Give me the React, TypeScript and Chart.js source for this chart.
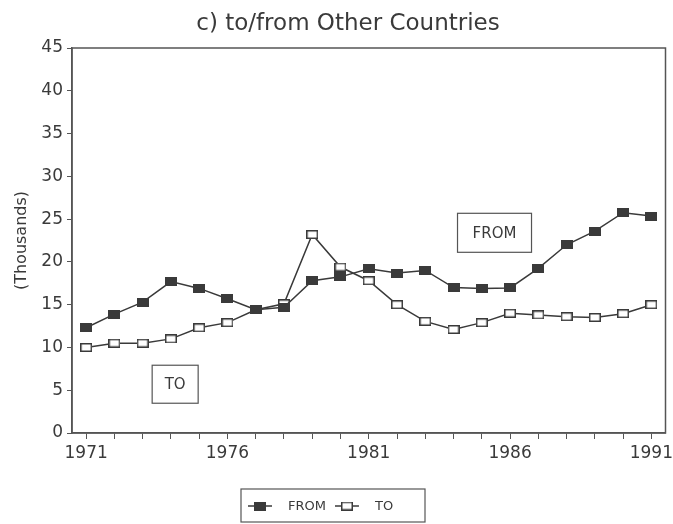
import { useEffect, useRef } from "react";
import { Chart, registerables } from "chart.js";

Chart.register(...registerables);

const years = [
  "1971", "1972", "1973", "1974", "1975", "1976", "1977", "1978", "1979", "1980",
  "1981", "1982", "1983", "1984", "1985", "1986", "1987", "1988", "1989", "1990", "1991",
];
const fromValues = [
  12.3, 13.9, 15.3, 17.7, 16.9, 15.7, 14.4, 14.7, 17.8, 18.25,
  19.2, 18.7, 19.0, 17.0, 16.9, 16.95, 19.25, 22.0, 23.6, 25.75, 25.35,
];
const toValues = [
  10.0, 10.5, 10.5, 11.0, 12.3, 12.9, 14.4, 15.1, 23.2, 19.4,
  17.8, 15.0, 13.05, 12.1, 12.9, 14.0, 13.8, 13.6, 13.5, 13.95, 15.0,
];
const labeledYears = ["1971", "1976", "1981", "1986", "1991"];
const seriesNames = ["FROM", "TO"];
const titleText = "c) to/from Other Countries";
const yAxisTitle = "(Thousands)";
// annotation labels placed in data space (category index, value)
const annotationTexts = ["TO", "FROM"];
const annotationX = [3.15, 14.45];
const annotationY = [5.7, 23.4];

const FONT = "'DejaVu Sans', 'Liberation Sans', sans-serif";
const INK = "#3a3a3a";
const AXIS = "#555";
const ANNOT_SIZES = [
  { w: 46, h: 38 },
  { w: 74, h: 39 },
];

function makeMarker(filled: boolean): HTMLCanvasElement {
  const c = document.createElement("canvas");
  c.width = 12;
  c.height = 9;
  const ctx = c.getContext("2d")!;
  if (filled) {
    ctx.fillStyle = INK;
    ctx.fillRect(0, 0, 12, 9);
  } else {
    ctx.fillStyle = "#fff";
    ctx.fillRect(0, 0, 12, 9);
    ctx.strokeStyle = INK;
    ctx.lineWidth = 1.5;
    ctx.strokeRect(0.75, 0.75, 10.5, 7.5);
  }
  return c;
}

export default function App() {
  const ref = useRef<HTMLCanvasElement | null>(null);

  useEffect(() => {
    if (!ref.current) return;
    const markers = [makeMarker(true), makeMarker(false)];

    const decor = {
      id: "decor",
      afterDatasetsDraw(chart: any) {
        const { ctx, chartArea, scales } = chart;
        ctx.save();
        // frame
        ctx.strokeStyle = AXIS;
        ctx.lineWidth = 1.5;
        ctx.strokeRect(chartArea.left, chartArea.top, chartArea.right - chartArea.left, chartArea.bottom - chartArea.top);
        // annotation boxes
        ctx.font = `15px ${FONT}`;
        ctx.textAlign = "center";
        ctx.textBaseline = "middle";
        annotationTexts.forEach((t, i) => {
          const cx = scales.x.getPixelForValue(annotationX[i]);
          const cy = scales.y.getPixelForValue(annotationY[i]);
          const { w, h } = ANNOT_SIZES[i];
          ctx.fillStyle = "#fff";
          ctx.fillRect(cx - w / 2, cy - h / 2, w, h);
          ctx.strokeStyle = AXIS;
          ctx.lineWidth = 1.2;
          ctx.strokeRect(cx - w / 2, cy - h / 2, w, h);
          ctx.fillStyle = INK;
          ctx.fillText(t, cx, cy + 1);
        });
        ctx.restore();
      },
      afterDraw(chart: any) {
        const { ctx } = chart;
        ctx.save();
        // title
        ctx.fillStyle = INK;
        ctx.font = `23px ${FONT}`;
        ctx.textAlign = "center";
        ctx.textBaseline = "middle";
        ctx.fillText(titleText, 348, 24);
        // legend
        const lx = 241, ly = 489, lw = 184, lh = 33;
        ctx.strokeStyle = AXIS;
        ctx.lineWidth = 1.2;
        ctx.strokeRect(lx, ly, lw, lh);
        ctx.font = `13px ${FONT}`;
        ctx.textAlign = "left";
        const cy = ly + 17;
        let x = lx + 7;
        chart.data.datasets.forEach((ds: any, i: number) => {
          ctx.strokeStyle = INK;
          ctx.lineWidth = 1.5;
          ctx.beginPath();
          ctx.moveTo(x, cy);
          ctx.lineTo(x + 24, cy);
          ctx.stroke();
          const m = markers[i];
          ctx.drawImage(m, x + 12 - m.width / 2, cy - m.height / 2);
          ctx.fillStyle = INK;
          ctx.fillText(ds.label, x + 40, cy + 1);
          x += 40 + ctx.measureText(ds.label).width + 9;
        });
        ctx.restore();
      },
    };

    const chart = new Chart(ref.current, {
      type: "line",
      data: {
        labels: years,
        datasets: [
          {
            label: seriesNames[0],
            data: fromValues,
            borderColor: INK,
            borderWidth: 1.5,
            pointStyle: markers[0] as any,
            pointRadius: 6,
            tension: 0,
          },
          {
            label: seriesNames[1],
            data: toValues,
            borderColor: INK,
            borderWidth: 1.5,
            pointStyle: markers[1] as any,
            pointRadius: 6,
            tension: 0,
          },
        ],
      },
      options: {
        responsive: false,
        animation: false,
        layout: { padding: { left: 0, right: 7, top: 48, bottom: 61 } },
        plugins: {
          legend: { display: false },
          title: { display: false },
          tooltip: { enabled: false },
        },
        scales: {
          x: {
            type: "category",
            offset: true,
            grid: { display: true, drawOnChartArea: false, drawTicks: true, tickLength: 6, color: AXIS, offset: false },
            border: { display: true, color: AXIS, width: 1.5 },
            ticks: {
              autoSkip: false,
              maxRotation: 0,
              padding: 4,
              color: INK,
              font: { family: FONT, size: 17 },
              callback: function (this: any, v: any) {
                const lbl = years[v as number];
                return labeledYears.includes(lbl) ? lbl : "";
              },
            },
            afterFit(scale: any) {
              scale.height = 30;
              scale.paddingLeft = 0;
              scale.paddingRight = 0;
            },
          },
          y: {
            min: 0,
            max: 45,
            grid: { display: true, drawOnChartArea: false, drawTicks: true, tickLength: 5, color: AXIS },
            border: { display: true, color: AXIS, width: 1.5 },
            ticks: {
              stepSize: 5,
              padding: 4,
              color: INK,
              font: { family: FONT, size: 17 },
            },
            title: {
              display: true,
              text: yAxisTitle,
              color: INK,
              font: { family: FONT, size: 16 },
              padding: { top: 12, bottom: 0 },
            },
            afterFit(scale: any) {
              scale.width = 72;
              scale.paddingTop = 0;
              scale.paddingBottom = 0;
            },
          },
        },
      },
      plugins: [decor],
    });
    return () => chart.destroy();
  }, []);

  return (
    <div style={{ position: "fixed", left: 0, top: 0, width: 673, height: 524, background: "#fff" }}>
      <canvas ref={ref} width={673} height={524} style={{ display: "block" }} />
    </div>
  );
}
